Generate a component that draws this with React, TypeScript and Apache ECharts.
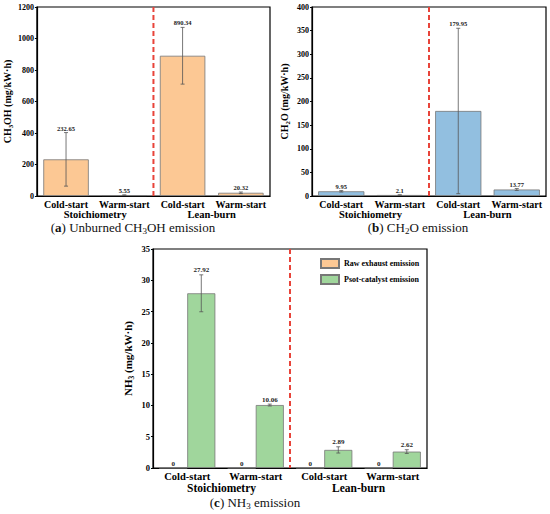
import React, { useEffect, useRef } from "react";
import * as echarts from "echarts";

const categories = ["Cold-start", "Warm-start", "Cold-start", "Warm-start"];
const groups = ["Stoichiometry", "Lean-burn"];

const ch3ohValues = [232.65, 5.55, 890.34, 20.32];
const ch3ohErrors = [170, 1.5, 180, 5];

const ch2oValues = [9.95, 2.1, 179.95, 13.77];
const ch2oErrors = [1.5, 0.5, 175, 2];

const nh3RawValues = [0, 0, 0, 0];
const nh3PostValues = [27.92, 10.06, 2.89, 2.62];
const nh3PostErrors = [2.95, 0.15, 0.5, 0.3];

const legendNames = ["Raw exhaust emission", "Psot-catalyst emission"];

const FONT = '"Liberation Serif", "Times New Roman", serif';
const ORANGE = "#fcc894";
const BLUE = "#92bfe0";
const GREEN = "#a0d69c";

const subRich = (size: number) => ({
  a: { fontSize: size, fontWeight: "bold", fontFamily: FONT, color: "#000", lineHeight: size + 2, verticalAlign: "top" },
  s: { fontSize: size * 0.68, fontWeight: "bold", fontFamily: FONT, color: "#000", lineHeight: size * 0.7, verticalAlign: "bottom", padding: [size * 0.6, 0, 0, 0] },
});

const errorSeries = (
  xAxisIndex: number,
  yAxisIndex: number,
  values: number[],
  errors: number[] | null,
  offsetFrac: number,
  labelSize: number
) => ({
  type: "custom",
  xAxisIndex,
  yAxisIndex,
  z: 5,
  silent: true,
  clip: false,
  data: values.map((v, i) => [i, v, errors ? errors[i] : 0]),
  renderItem: (params: any, api: any) => {
    const i = api.value(0);
    const v = api.value(1);
    const e = api.value(2);
    const bw = api.size([1, 0])[0];
    const cx = api.coord([i, v])[0] + offsetFrac * bw;
    const top = api.coord([i, v + e])[1];
    const bot = api.coord([i, v - e])[1];
    const cap = 2;
    const st = { stroke: "#555", lineWidth: 0.8 };
    const children: any[] = [];
    if (e > 0) {
      children.push({ type: "line", shape: { x1: cx, y1: top, x2: cx, y2: bot }, style: st });
      children.push({ type: "line", shape: { x1: cx - cap, y1: top, x2: cx + cap, y2: top }, style: st });
      children.push({ type: "line", shape: { x1: cx - cap, y1: bot, x2: cx + cap, y2: bot }, style: st });
    }
    children.push({
      type: "text",
      x: cx,
      y: top - 1,
      style: {
        text: String(v),
        align: "center",
        verticalAlign: "bottom",
        fontSize: labelSize,
        fontWeight: "bold",
        fontFamily: FONT,
        fill: "#222",
      },
    });
    return { type: "group", children };
  },
});

const dashSeries = (xAxisIndex: number, yAxisIndex: number) => ({
  type: "custom",
  xAxisIndex,
  yAxisIndex,
  z: 6,
  silent: true,
  clip: false,
  data: [[0, 0]],
  renderItem: (params: any, api: any) => {
    const cs = params.coordSys;
    const x = (api.coord([1, 0])[0] + api.coord([2, 0])[0]) / 2;
    return {
      type: "line",
      shape: { x1: x, y1: cs.y, x2: x, y2: cs.y + cs.height },
      style: { stroke: "#e8443a", lineWidth: 2, lineDash: [5, 3] },
    };
  },
});

const catAxis = (gridIndex: number, size: number) => ({
  type: "category",
  gridIndex,
  data: categories,
  axisLine: { lineStyle: { color: "#000", width: 1.2 } },
  axisTick: { show: false },
  axisLabel: { fontSize: size, fontWeight: "bold", fontFamily: FONT, color: "#000", margin: 3, interval: 0 },
});

const groupAxis = (gridIndex: number, size: number, offset: number) => ({
  type: "category",
  gridIndex,
  data: groups,
  position: "bottom",
  offset,
  axisLine: { show: false },
  axisTick: { show: false },
  axisLabel: { fontSize: size, fontWeight: "bold", fontFamily: FONT, color: "#000", margin: 3, interval: 0 },
});

const valAxis = (gridIndex: number, min: number, max: number, interval: number, name: string, nameGap: number, nameSize: number, labelSize: number) => ({
  type: "value",
  gridIndex,
  min,
  max,
  interval,
  name,
  nameLocation: "middle",
  nameGap,
  nameTextStyle: { rich: subRich(nameSize) },
  axisLine: { show: true, lineStyle: { color: "#000", width: 1.2 } },
  axisTick: { show: true, length: 2, lineStyle: { color: "#000" } },
  splitLine: { show: false },
  axisLabel: {
    fontSize: labelSize,
    fontWeight: "bold",
    fontFamily: FONT,
    color: "#000",
    margin: 3,
    formatter: (v: number) => String(v),
  },
});

const barStyle = (color: string) => ({ color, borderColor: "#777", borderWidth: 0.8 });

const caption = (x: number, y: number, letter: string, parts: string[], sub: string) => ({
  type: "text",
  x,
  y,
  style: {
    text: `{n|(}{b|${letter}}{n|) ${parts[0]}}{s|${sub}}{n|${parts[1]}}`,
    align: "center",
    verticalAlign: "middle",
    rich: {
      n: { fontSize: 13, fontFamily: FONT, fill: "#111", lineHeight: 15, verticalAlign: "top" },
      b: { fontSize: 13, fontFamily: FONT, fontWeight: "bold", fill: "#111", lineHeight: 15, verticalAlign: "top" },
      s: { fontSize: 9, fontFamily: FONT, fill: "#111", lineHeight: 9, verticalAlign: "bottom", padding: [8, 0, 0, 0] },
    },
  },
});

export default function App() {
  const ref = useRef<HTMLDivElement>(null);
  useEffect(() => {
    if (!ref.current) return;
    const chart = echarts.init(ref.current, null, { renderer: "svg" });
    const gridBase = { show: true, borderColor: "#000", borderWidth: 1.2, backgroundColor: "transparent", containLabel: false };
    const option: any = {
      animation: false,
      backgroundColor: "#fff",
      textStyle: { fontFamily: FONT },
      grid: [
        { ...gridBase, left: 31, top: 7, width: 239, height: 189 },
        { ...gridBase, left: 312, top: 7, width: 234, height: 189 },
        { ...gridBase, left: 153, top: 249, width: 274, height: 219 },
      ],
      xAxis: [
        catAxis(0, 10),
        groupAxis(0, 10.5, 10),
        catAxis(1, 10),
        groupAxis(1, 10.5, 10),
        catAxis(2, 10.5),
        groupAxis(2, 11.5, 10.5),
      ],
      yAxis: [
        valAxis(0, 0, 1200, 200, "{a|CH}{s|3}{a|OH (mg/kW·h)}", 21, 10, 8),
        valAxis(1, 0, 400, 50, "{a|CH}{s|2}{a|O (mg/kW·h)}", 21, 10, 8),
        valAxis(2, 0, 35, 5, "{a|NH}{s|3}{a| (mg/kW·h)}", 18, 11, 8.5),
      ],
      legend: {
        data: legendNames,
        orient: "vertical",
        left: 320,
        top: 258,
        padding: 0,
        itemWidth: 18,
        itemHeight: 9,
        itemGap: 5,
        icon: "rect",
        textStyle: { fontSize: 8, fontWeight: "bold", fontFamily: FONT, color: "#000" },
      },
      series: [
        {
          type: "bar",
          name: "CH3OH",
          xAxisIndex: 0,
          yAxisIndex: 0,
          data: ch3ohValues,
          barCategoryGap: "22%",
          itemStyle: barStyle(ORANGE),
        },
        errorSeries(0, 0, ch3ohValues, ch3ohErrors, 0, 6.5),
        dashSeries(0, 0),
        {
          type: "bar",
          name: "CH2O",
          xAxisIndex: 2,
          yAxisIndex: 1,
          data: ch2oValues,
          barCategoryGap: "21%",
          itemStyle: barStyle(BLUE),
        },
        errorSeries(2, 1, ch2oValues, ch2oErrors, 0, 6.5),
        dashSeries(2, 1),
        {
          type: "bar",
          name: legendNames[0],
          xAxisIndex: 4,
          yAxisIndex: 2,
          data: nh3RawValues,
          barGap: "0%",
          barCategoryGap: "18%",
          itemStyle: barStyle(ORANGE),
        },
        {
          type: "bar",
          name: legendNames[1],
          xAxisIndex: 4,
          yAxisIndex: 2,
          data: nh3PostValues,
          barGap: "0%",
          barCategoryGap: "18%",
          itemStyle: barStyle(GREEN),
        },
        errorSeries(4, 2, nh3RawValues, null, -0.205, 7),
        errorSeries(4, 2, nh3PostValues, nh3PostErrors, 0.205, 7),
        dashSeries(4, 2),
      ],
      graphic: [
        caption(133, 228, "a", ["Unburned CH", "OH emission"], "3"),
        caption(418, 228, "b", ["CH", "O emission"], "2"),
        caption(255, 503, "c", ["NH", " emission"], "3"),
      ],
    };
    chart.setOption(option);
    return () => chart.dispose();
  }, []);
  return <div ref={ref} style={{ position: "fixed", left: 0, top: 0, width: 550, height: 514 }} />;
}
